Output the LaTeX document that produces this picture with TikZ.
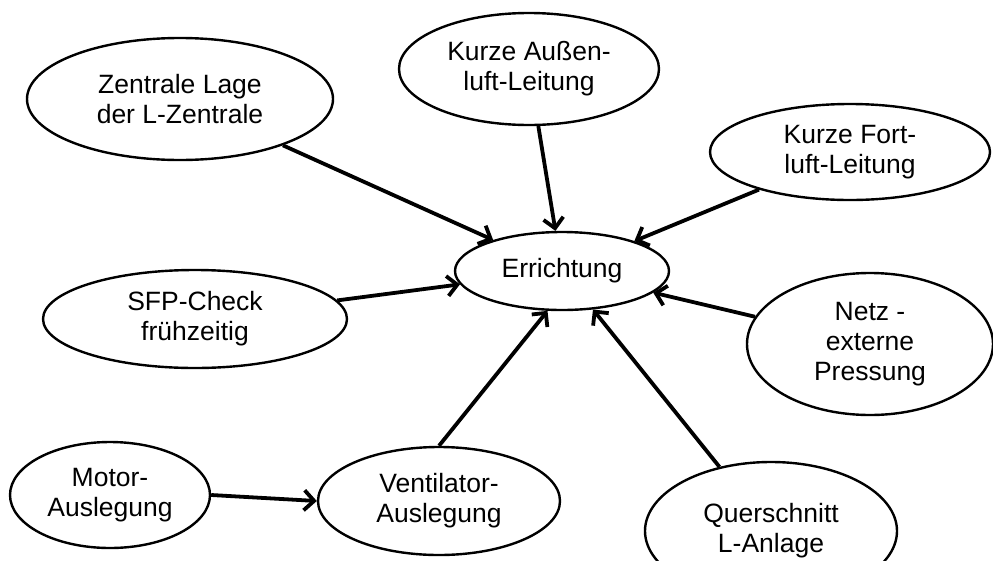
\documentclass[tikz,border=0pt]{standalone}
\usepackage{fontspec}
\setmainfont{Liberation Sans}
\usepackage{tikz}
\usetikzlibrary{arrows.meta,shapes.geometric}
\tikzset{
    every node/.style={ellipse, draw, line width=2.4pt, inner sep=0mm, align=center,
        font=\fontsize{26.5}{30}\selectfont}
}
\tikzset{arr/.style={line width=3.8pt, -{Straight Barb[length=10pt, width=20pt]}}}

\begin{document}
\begin{tikzpicture}[x=1pt, y=-1pt]
    \useasboundingbox (0,0) rectangle (993,560);

    \node (err) at (562, 271) [minimum width=214pt, minimum height=78pt] {Errichtung};

    \node (lage) at (180, 99) [minimum width=306pt, minimum height=122pt] {Zentrale Lage\\der L-Zentrale};
    \node (aul) at (529, 69) [minimum width=260pt, minimum height=112pt] {Kurze Au\ss en-\\luft-Leitung};
    \node (fol) at (850, 152) [minimum width=280pt, minimum height=96pt] {Kurze Fort-\\luft-Leitung};
    \node (netz) at (870, 344) [minimum width=246pt, minimum height=142pt] {Netz -\\externe\\Pressung};
    \node (sfp) at (195, 319) [minimum width=304pt, minimum height=98pt] {SFP-Check\\fr\"uhzeitig};
    \node (motor) at (110, 495) [minimum width=200pt, minimum height=106pt] {Motor-\\Auslegung};
    \node (vent) at (439, 501) [minimum width=242pt, minimum height=108pt] {Ventilator-\\Auslegung};
    \node (quer) at (771, 531) [minimum width=252pt, minimum height=138pt] {Querschnitt\\L-Anlage};

    %\draw (lage) edge[arr] (err);
    \draw[arr] (lage) -- (err);
    \draw[arr] (aul) -- (err);
    \draw[arr] (fol) -- (err);
    \draw[arr] (netz) -- (err);
    \draw[arr] (sfp) -- (err);
    \draw[arr] (quer) -- (err);
    \draw[arr] (vent.north) -- (err.250);
    \draw[arr] (motor.east) -- (vent.west);
\end{tikzpicture}
\end{document}
